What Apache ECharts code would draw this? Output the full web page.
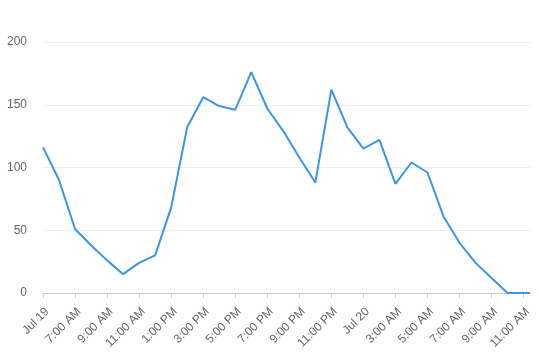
<!DOCTYPE html>
<html>
<head>
<meta charset="utf-8">
<script src="https://cdn.jsdelivr.net/npm/echarts@6/dist/echarts.min.js"></script>
<style>html,body{margin:0;padding:0;background:#fff}#c{width:538px;height:353px}</style>
</head>
<body>
<div id="c"></div>
<script>
// hours elapsed since first sample
var hours = [0,1,2,3,4,5,6,7,8,9,10,11,12,13,14,15,16,17,18,19,20,21,22,23,24,25,26,27,28,29,30,30.4];
var values = [116,90,51,38,26,15,24,30,68,132,156,149,146,176,147,129,108,88,162,132,115,122,87,104,96,61,40,24,12,0,0,0];
var tickLabels = ["Jul 19","7:00 AM","9:00 AM","11:00 AM","1:00 PM","3:00 PM","5:00 PM","7:00 PM","9:00 PM","11:00 PM","Jul 20","3:00 AM","5:00 AM","7:00 AM","9:00 AM","11:00 AM"];
var yTicks = [0,50,100,150,200];

var data = hours.map(function(h,i){return [h, values[i]];});
var chart = echarts.init(document.getElementById('c'));
chart.setOption({
  animation:false,
  grid:{left:43,right:8,top:42,bottom:60,containLabel:false},
  xAxis:{
    type:'value', min:0, max:30.4, interval:2,
    axisLine:{show:true,lineStyle:{color:'#ccc'}},
    axisTick:{show:true,length:5,lineStyle:{color:'#ccc'}},
    splitLine:{show:false},
    axisLabel:{rotate:45,color:'#666',fontSize:12,fontFamily:'Arial, Liberation Sans, sans-serif',margin:21,
      padding:[0,-6,0,0],
      showMaxLabel:false,
      formatter:function(v){var i=Math.round(v/2);return tickLabels[i]||'';}}
  },
  yAxis:{
    type:'value', min:yTicks[0], max:yTicks[yTicks.length-1], interval:50,
    axisLine:{show:false}, axisTick:{show:false},
    splitLine:{lineStyle:{color:'#eee'}},
    axisLabel:{color:'#666',fontSize:12,fontFamily:'Arial, Liberation Sans, sans-serif',margin:16}
  },
  series:[{type:'line',data:data,showSymbol:false,symbol:'none',
    lineStyle:{color:'#3a96e6',width:2},itemStyle:{color:'#3a96e6'}}]
});
</script>
</body>
</html>
